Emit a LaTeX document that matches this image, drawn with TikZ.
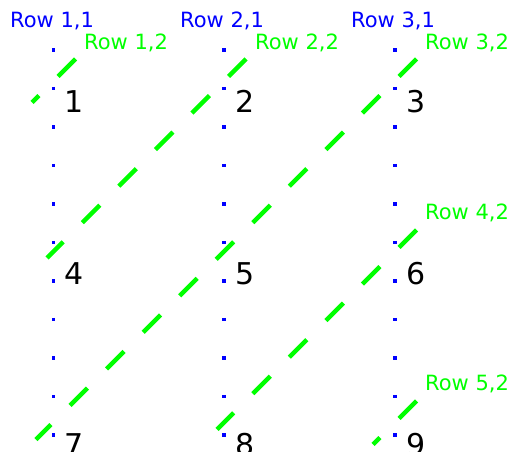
\documentclass[tikz,border=0pt]{standalone}
\usepackage{fontspec}
\setmainfont{DejaVu Sans}
\definecolor{rowblue}{RGB}{0,0,255}
\definecolor{rowgreen}{RGB}{0,255,0}
\begin{document}
\begin{tikzpicture}[x=1bp,y=-1bp,
  colline/.style={draw=rowblue, line width=3.3bp, dash pattern=on 3.3bp off 35.2bp},
  diagline/.style={draw=rowgreen, line width=4.3bp, dash pattern=on 24.7bp off 27bp},
  firstlab/.style={text=rowblue, font=\fontsize{21bp}{25bp}\selectfont, inner sep=0pt, anchor=base west},
  secondlab/.style={text=rowgreen, font=\fontsize{21bp}{25bp}\selectfont, inner sep=0pt, anchor=base west},
  entry/.style={font=\fontsize{30bp}{36bp}\selectfont, inner sep=0pt, anchor=base}]
\useasboundingbox (0,0) rectangle (513,452);
\clip (0,0) rectangle (513,452);

% dotted columns
\coordinate (c1top) at (53.5,48.35);  \coordinate (c1bot) at (53.5,480);
\coordinate (c2top) at (224,48.35);   \coordinate (c2bot) at (224,480);
\coordinate (c3top) at (395,48.35);   \coordinate (c3bot) at (395,480);
\draw[colline] (c1top) -- (c1bot);
\draw[colline] (c2top) -- (c2bot);
\draw[colline] (c3top) -- (c3bot);

% column headings
\node[firstlab] (r11) at (10,28) {Row 1,1};
\node[firstlab] (r21) at (180,28) {Row 2,1};
\node[firstlab] (r31) at (351,28) {Row 3,1};

% diagonal headings
\node[secondlab] (r12) at (84,49.3) {Row 1,2};
\node[secondlab] (r22) at (255,49.3) {Row 2,2};
\node[secondlab] (r32) at (425,49.3) {Row 3,2};
\node[secondlab] (r42) at (425,219.3) {Row 4,2};
\node[secondlab] (r52) at (425,390.5) {Row 5,2};

% entries
\node[entry] (n1) at (74.5,113) {1};
\node[entry] (n2) at (245,113) {2};
\node[entry] (n3) at (416,113) {3};
\node[entry] (n4) at (74.5,284) {4};
\node[entry] (n5) at (245,284) {5};
\node[entry] (n6) at (416,284) {6};
\node[entry] (n7) at (74.5,455) {7};
\node[entry] (n8) at (245,455) {8};
\node[entry] (n9) at (416,455) {9};

% dashed diagonals
\coordinate (d1s) at (75.5,59);   \coordinate (d1e) at (32,102.5);
\coordinate (d2s) at (246,59);    \coordinate (d2e) at (47,258);
\coordinate (d3s) at (416.5,59);  \coordinate (d3e) at (36,439.5);
\coordinate (d4s) at (416.5,230); \coordinate (d4e) at (217,429.5);
\coordinate (d5s) at (416.5,401); \coordinate (d5e) at (373,444.5);
\draw[diagline] (d1s) -- (d1e);
\draw[diagline] (d2s) -- (d2e);
\draw[diagline] (d3s) -- (d3e);
\draw[diagline] (d4s) -- (d4e);
\draw[diagline] (d5s) -- (d5e);
\end{tikzpicture}
\end{document}
